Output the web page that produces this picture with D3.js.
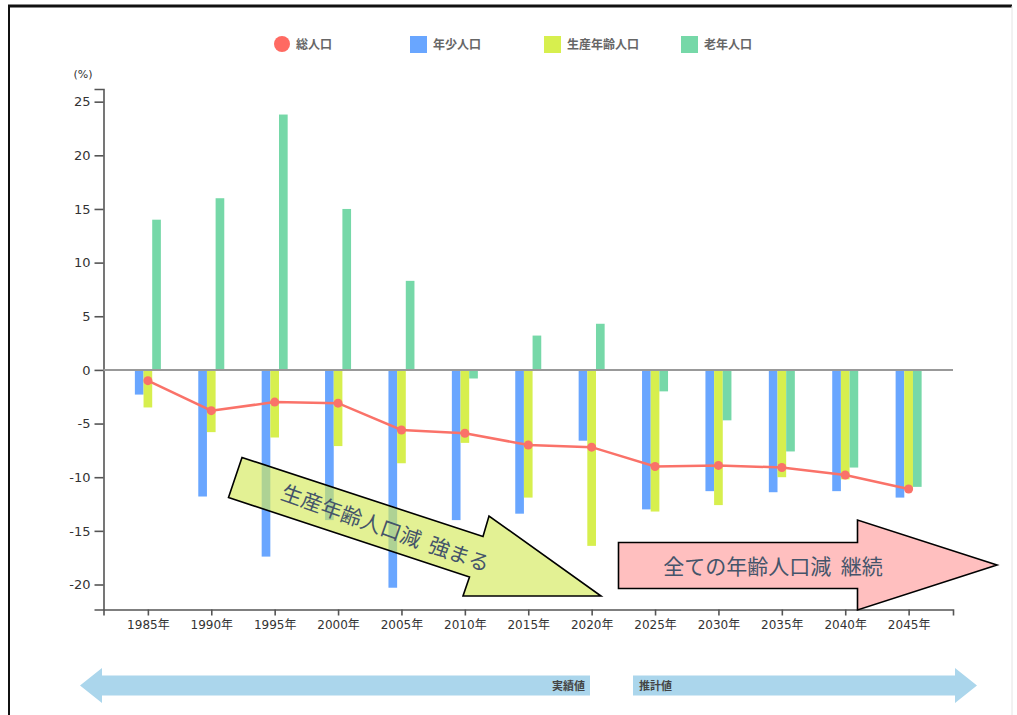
<!DOCTYPE html>
<html lang="ja">
<head>
<meta charset="utf-8">
<script src="https://cdn.jsdelivr.net/npm/d3@7"></script>
<style>
  html, body { margin: 0; padding: 0; background: #fff; }
  svg { display: block; }
  text { font-family: "DejaVu Sans", "Noto Sans CJK JP", sans-serif; }
  .jp { font-family: "Noto Sans CJK JP", sans-serif; }
</style>
</head>
<body>
<svg id="chart" width="1017" height="715"></svg>
<script>
// Population change rate by 5-year period (%)
const years   = ["1985年","1990年","1995年","2000年","2005年","2010年","2015年","2020年","2025年","2030年","2035年","2040年","2045年"];
const total   = [-1.0, -3.8, -3.0, -3.1, -5.6, -5.9, -7.0, -7.2, -9.0, -8.9, -9.1, -9.8, -11.1];
const youth   = [-2.3, -11.8, -17.4, -14.0, -20.3, -14.0, -13.4, -6.6, -13.0, -11.3, -11.4, -11.3, -11.9];
const working = [-3.5, -5.8, -6.3, -7.1, -8.7, -6.8, -11.9, -16.4, -13.2, -12.6, -10.0, -10.2, -11.0];
const elderly = [14.0, 16.0, 23.8, 15.0, 8.3, -0.8, 3.2, 4.3, -2.0, -4.7, -7.6, -9.1, -10.9];
const yTicks  = [25, 20, 15, 10, 5, 0, -5, -10, -15, -20];

const seriesNames = ["総人口", "年少人口", "生産年齢人口", "老年人口"];
const barSeries = [
  { name: "年少人口", values: youth, color: "#69a6ff" },
  { name: "生産年齢人口", values: working, color: "#d7ef4e" },
  { name: "老年人口", values: elderly, color: "#76d8a8" }
];
const lineColor = "#fa7269";

const svg = d3.select("#chart");

// page frame
svg.append("line").attr("x1", 8).attr("x2", 1012).attr("y1", 6).attr("y2", 6)
  .attr("stroke", "#111").attr("stroke-width", 3);
svg.append("line").attr("x1", 9).attr("x2", 9).attr("y1", 5).attr("y2", 715)
  .attr("stroke", "#111").attr("stroke-width", 2);
svg.append("line").attr("x1", 1012).attr("x2", 1012).attr("y1", 6).attr("y2", 715)
  .attr("stroke", "#e4e4e4").attr("stroke-width", 1);

const plotLeft = 103.5, plotRight = 953, plotTop = 89, plotBottom = 609.5;

const x = d3.scalePoint().domain(years).range([plotLeft, plotRight]).padding(0.7);
const allBars = youth.concat(working, elderly);
const y = d3.scaleLinear()
  .domain([d3.min(allBars) * 1.1, d3.max(allBars) * 1.1])
  .range([plotBottom, plotTop]);
const sub = d3.scaleBand().domain(barSeries.map(d => d.name)).range([-13, 13]);

// axes
const yAxis = svg.append("g").attr("transform", `translate(${plotLeft},0)`)
  .call(d3.axisLeft(y).tickValues(yTicks).tickFormat(d => String(d))
    .tickSize(9).tickSizeOuter(9).tickPadding(4));
const xAxis = svg.append("g").attr("transform", `translate(0,${plotBottom})`)
  .call(d3.axisBottom(x).tickSize(6).tickSizeOuter(6).tickPadding(5));
[yAxis, xAxis].forEach(g => {
  g.select(".domain").attr("stroke", "#555").attr("stroke-width", 1.6);
  g.selectAll(".tick line").attr("stroke", "#555").attr("stroke-width", 1.6);
  g.selectAll(".tick text").attr("fill", "#333").attr("font-family", "\"DejaVu Sans\", \"Noto Sans CJK JP\", sans-serif");
});
yAxis.selectAll(".tick text").attr("font-size", 13);
xAxis.selectAll(".tick text").attr("font-size", 12);

svg.append("text").attr("x", 83).attr("y", 78).attr("text-anchor", "middle")
  .attr("font-size", 11).attr("fill", "#333").text("(%)");

// bars
barSeries.forEach(s => {
  svg.append("g").selectAll("rect").data(s.values).join("rect")
    .attr("x", (d, i) => x(years[i]) + sub(s.name))
    .attr("width", sub.bandwidth())
    .attr("y", d => Math.min(y(d), y(0)))
    .attr("height", d => Math.abs(y(d) - y(0)))
    .attr("fill", s.color);
});

// zero line
svg.append("line").attr("x1", plotLeft).attr("x2", plotRight)
  .attr("y1", y(0)).attr("y2", y(0))
  .attr("stroke", "#999").attr("stroke-width", 2);

// total population line
svg.append("path").datum(total)
  .attr("fill", "none").attr("stroke", lineColor).attr("stroke-width", 2.5)
  .attr("d", d3.line().x((d, i) => x(years[i])).y(d => y(d)));
svg.append("g").selectAll("circle").data(total).join("circle")
  .attr("cx", (d, i) => x(years[i])).attr("cy", d => y(d)).attr("r", 4.5)
  .attr("fill", lineColor);

// legend
const legend = svg.append("g").attr("class", "jp");
const legendX = [282, 410, 544, 681];
legend.append("circle").attr("cx", legendX[0]).attr("cy", 44).attr("r", 8).attr("fill", "#ff6a62");
barSeries.forEach((s, i) => {
  legend.append("rect").attr("x", legendX[i + 1]).attr("y", 36).attr("width", 17).attr("height", 17).attr("fill", s.color);
});
seriesNames.forEach((n, i) => {
  legend.append("text").attr("x", i === 0 ? 296 : legendX[i] + 23).attr("y", 49)
    .attr("font-size", 12).attr("font-weight", "bold").attr("fill", "#666")
    .attr("class", "jp").text(n);
});

// annotation arrows
const arrowText = "#44546a";
const yellowArrow = [[242, 457.5], [483, 536.5], [489, 516], [601, 596], [463, 596], [469.5, 577], [228.5, 497.5]];
svg.append("polygon").attr("points", yellowArrow.map(p => p.join(",")).join(" "))
  .attr("fill", "#d4ea5a").attr("fill-opacity", 0.65);
svg.append("polygon").attr("points", yellowArrow.map(p => p.join(",")).join(" "))
  .attr("fill", "none").attr("stroke", "#000").attr("stroke-width", 1.6).attr("stroke-linejoin", "miter");
svg.append("text").attr("class", "jp")
  .attr("transform", "translate(386,527) rotate(19.5)")
  .attr("text-anchor", "middle").attr("dominant-baseline", "central")
  .attr("font-size", 21).attr("fill", arrowText).style("white-space", "pre")
  .text("生産年齢人口減  強まる");

const pinkArrow = [[618.5, 542.5], [857.5, 542.5], [857.5, 520], [997, 565], [857.5, 610], [857.5, 588.5], [618.5, 588.5]];
svg.append("polygon").attr("points", pinkArrow.map(p => p.join(",")).join(" "))
  .attr("fill", "#ffbfbf").attr("stroke", "#000").attr("stroke-width", 1.6);
svg.append("text").attr("class", "jp")
  .attr("x", 773).attr("y", 565)
  .attr("text-anchor", "middle").attr("dominant-baseline", "central")
  .attr("font-size", 21).attr("fill", arrowText).style("white-space", "pre")
  .text("全ての年齢人口減  継続");

// actual / projected period arrows
const periodColor = "#abd6ec";
const pastArrow = [[80, 685.5], [102, 668], [102, 675.5], [590, 675.5], [590, 695.5], [102, 695.5], [102, 703]];
const futureArrow = [[633, 675.5], [955, 675.5], [955, 668], [977, 685.5], [955, 703], [955, 695.5], [633, 695.5]];
[pastArrow, futureArrow].forEach(a => {
  svg.append("polygon").attr("points", a.map(p => p.join(",")).join(" ")).attr("fill", periodColor);
});
svg.append("text").attr("class", "jp").attr("x", 585).attr("y", 690)
  .attr("text-anchor", "end").attr("font-size", 11).attr("font-weight", "bold").attr("fill", "#444")
  .text("実績値");
svg.append("text").attr("class", "jp").attr("x", 639).attr("y", 690)
  .attr("font-size", 11).attr("font-weight", "bold").attr("fill", "#444")
  .text("推計値");
</script>
</body>
</html>
